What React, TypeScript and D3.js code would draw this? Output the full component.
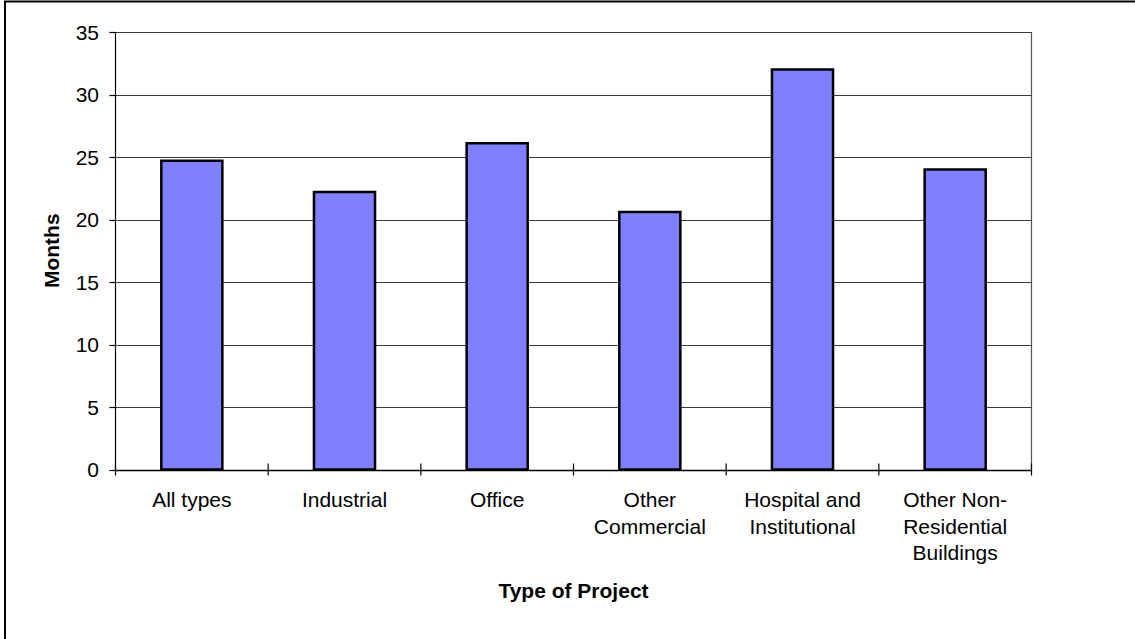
import React from "react";
import * as d3 from "d3";

const categories: string[][] = [
  ["All types"],
  ["Industrial"],
  ["Office"],
  ["Other", "Commercial"],
  ["Hospital and", "Institutional"],
  ["Other Non-", "Residential", "Buildings"],
];
const values: number[] = [24.7, 22.2, 26.1, 20.6, 32.0, 24.0];
const yTicks: number[] = [0, 5, 10, 15, 20, 25, 30, 35];

const W = 1135;
const H = 639;
const left = 115.5;
const right = 1031.5;
const top = 32;
const bottom = 469.5;
const font = "'Liberation Sans', Arial, sans-serif";

export default function App() {
  const ids = categories.map((_, i) => String(i));
  const x = d3.scaleBand<string>().domain(ids).range([left, right]).paddingInner(0).paddingOuter(0);
  const y = d3.scaleLinear().domain([0, 35]).range([bottom, top]);
  const bw = x.bandwidth() / 2.5;

  return (
    <svg width={W} height={H} style={{ position: "absolute", left: 0, top: 0, display: "block", background: "#fff" }}>
      <rect x={5} y={1.5} width={W + 10} height={H + 10} fill="#fff" stroke="#000" strokeWidth={2} />
      {/* plot border right */}
      <line x1={right} x2={right} y1={top} y2={bottom} stroke="#555" strokeWidth={1.2} />
      {yTicks.map((t) => (
        <g key={t}>
          <line x1={left} x2={right} y1={Math.round(y(t)) + 0.5} y2={Math.round(y(t)) + 0.5} stroke={t === 0 ? "#000" : "#3a3a3a"} strokeWidth={t === 0 ? 1.5 : 1.2} />
          <line x1={left - 6} x2={left} y1={Math.round(y(t)) + 0.5} y2={Math.round(y(t)) + 0.5} stroke="#000" strokeWidth={1.2} />
          <text x={99} y={y(t)} dy="0.36em" textAnchor="end" fontFamily={font} fontSize={21} fill="#000">
            {t}
          </text>
        </g>
      ))}
      {/* y axis */}
      <line x1={left} x2={left} y1={top} y2={bottom} stroke="#000" strokeWidth={1.2} />
      {/* x ticks */}
      {d3.range(categories.length + 1).map((i) => {
        const xx = left + i * x.step();
        return <line key={i} x1={xx} x2={xx} y1={bottom - 6} y2={bottom + 6} stroke="#000" strokeWidth={1.2} />;
      })}
      {/* bars */}
      {values.map((v, i) => {
        const cx = (x(String(i)) as number) + x.bandwidth() / 2;
        return (
          <rect key={i} x={cx - bw / 2} y={y(v)} width={bw} height={y(0) - y(v)} fill="#8080FF" stroke="#000" strokeWidth={2.5} />
        );
      })}
      {/* category labels */}
      {categories.map((lines, i) => {
        const cx = (x(String(i)) as number) + x.bandwidth() / 2;
        return (
          <text key={i} x={cx} y={507} textAnchor="middle" fontFamily={font} fontSize={21} fill="#000">
            {lines.map((l, j) => (
              <tspan key={j} x={cx} dy={j === 0 ? 0 : 26.7}>
                {l}
              </tspan>
            ))}
          </text>
        );
      })}
      <text x={(left + right) / 2} y={598} textAnchor="middle" fontFamily={font} fontSize={21} fontWeight="bold" fill="#000">
        Type of Project
      </text>
      <text transform={`translate(58.5, ${(top + bottom) / 2}) rotate(-90)`} textAnchor="middle" fontFamily={font} fontSize={21} fontWeight="bold" fill="#000">
        Months
      </text>
    </svg>
  );
}
